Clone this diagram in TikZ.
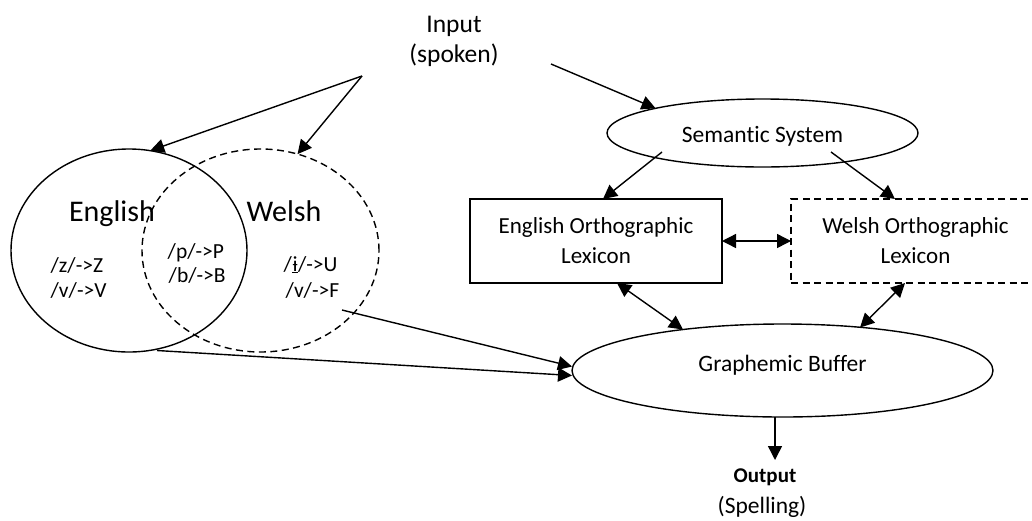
\documentclass[tikz,border=0pt]{standalone}
\usepackage{fontspec}
\setmainfont{Carlito}[Ligatures={NoCommon}]
\usetikzlibrary{shapes.geometric,arrows.meta,calc}

\begin{document}
\begin{tikzpicture}[x=1pt,y=-1pt,line width=1.4pt,
  tip/.tip={Triangle[length=14pt,width=14pt]},
  conn/.style={-tip},
  bothconn/.style={tip-tip},
  dashline/.style={dash pattern=on 7pt off 4.5pt},
  venn/.style={ellipse,draw,inner sep=0pt,outer sep=0pt,minimum width=236pt,minimum height=203pt},
  oval/.style={ellipse,draw,inner sep=0pt,outer sep=0pt,font=\fontsize{23.5}{28}\selectfont},
  lexbox/.style={rectangle,draw,inner sep=0pt,outer sep=0pt,minimum width=252pt,minimum height=84pt,
    align=center,font=\fontsize{23}{30}\selectfont},
  langlabel/.style={anchor=base,inner sep=0pt,font=\fontsize{30}{36}\selectfont},
  rule/.style={anchor=base west,inner sep=0pt,font=\fontsize{21.5}{25}\selectfont},
  caption/.style={anchor=base,inner sep=0pt,font=\fontsize{25.5}{30}\selectfont},
]
\clip (0,0) rectangle (1032,520);

% input label and the points its arrows leave from
\node[caption] (input) at (454,32) {Input};
\node[caption] (spoken) at (454,62) {(spoken)};
\coordinate (inL) at (362,76);
\coordinate (inR) at (551,64);

% overlapping language sets
\node[venn] (engc) at (129,250.5) {};
\node[venn,dashline,minimum width=237pt] (welc) at (260.5,250.5) {};
\node[langlabel] (englab) at (112,221) {English};
\node[langlabel] (wellab) at (284,221) {Welsh};
\node[rule] (rz) at (50,272) {/z/->Z};
\node[rule] (rv) at (50,297) {/v/->V};
\node[rule] (rp) at (167,258) {/p/->P};
\node[rule] (rb) at (168,282) {/b/->B};
\node[rule] (ri) at (283,271) {/\underline{ɨ}/->U};
\node[rule] (rf) at (285,297) {/v/->F};

% lexical route
\node[oval,minimum width=311pt,minimum height=68pt,text height=18pt,text depth=0pt] (sem) at (762.5,133) {Semantic System};
\node[lexbox] (engbox) at (596,241) {English Orthographic\\Lexicon};
\node[lexbox,dashline,minimum width=249pt] (welbox) at (915.5,241) {Welsh Orthographic\\Lexicon};
\node[oval,minimum width=421pt,minimum height=93pt,text height=10pt,text depth=9pt] (gb) at (782.5,370.5) {Graphemic Buffer};

% output
\node[anchor=base,inner sep=0pt,font=\fontsize{21}{25}\selectfont\bfseries] (output) at (765,482) {Output};
\node[anchor=base,inner sep=0pt,font=\fontsize{23.5}{28}\selectfont] (spelling) at (762,513) {(Spelling)};
\coordinate (outTip) at (775,460);

% connectors
\draw[conn] (inL) -- (engc.78);
\draw[conn] (inL) -- (welc.69.5);
\draw[conn] (inR) -- (sem.167);
\draw[conn] ($(sem.center)+(-100.5,19)$) -- ($(engbox.north)+(7,0)$);
\draw[conn] ($(sem.center)+(68.5,19)$) -- ($(welbox.north)+(-20.5,0)$);
\draw[bothconn] (engbox.east) -- (welbox.west);
\draw[bothconn] ($(engbox.south)+(21,0)$) -- ($(gb.center)+(-99.5,-41)$);
\draw[bothconn] ($(welbox.south)+(-10.5,0)$) -- ($(gb.center)+(77.5,-43)$);
\draw[conn] ($(welc.center)+(81.5,59.5)$) -- ($(gb.west)+(0,-4)$);
\draw[conn] ($(engc.center)+(28,100)$) -- ($(gb.west)+(0,5)$);
\draw[conn] ($(gb.center)+(-7.5,46.5)$) -- (outTip);
\end{tikzpicture}
\end{document}
